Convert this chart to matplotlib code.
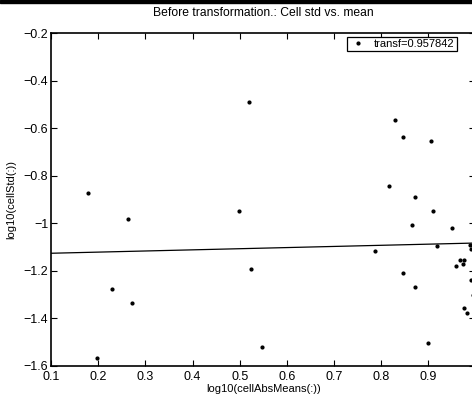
import matplotlib
matplotlib.use('Agg')
import matplotlib.pyplot as plt
from matplotlib.patches import Rectangle
from matplotlib.ticker import FuncFormatter

plt.rcParams['font.family'] = ['Liberation Sans', 'DejaVu Sans']

# log10 of cell means (x) and cell std (y)
cell_mean = [0.178, 0.264, 0.520, 0.499, 0.523, 0.230, 0.272, 0.547, 0.198,
             0.830, 0.846, 0.906, 0.816, 0.872, 0.909, 0.865, 0.951, 0.918,
             0.988, 0.991, 0.787, 0.968, 0.976, 0.973, 0.959, 0.846, 0.991,
             0.872, 0.975, 0.981, 0.900, 0.995]
cell_std = [-0.873, -0.982, -0.489, -0.949, -1.192, -1.277, -1.335, -1.520, -1.565,
            -0.566, -0.636, -0.655, -0.844, -0.889, -0.948, -1.008, -1.021, -1.094,
            -1.091, -1.109, -1.116, -1.155, -1.155, -1.170, -1.179, -1.210, -1.238,
            -1.268, -1.355, -1.378, -1.503, -1.301]

# fitted line
fit_x = [0.1, 1.0]
fit_y = [-1.126, -1.083]

xticks = [0.1, 0.2, 0.3, 0.4, 0.5, 0.6, 0.7, 0.8, 0.9, 1.0]
yticks = [-1.6, -1.4, -1.2, -1.0, -0.8, -0.6, -0.4, -0.2]


def fmt(v, pos):
    s = '%g' % round(v, 3)
    return s.replace('-', '\u2212')


def fmt_x(v, pos):
    # last label falls outside the picture
    if v > 0.95:
        return ''
    return fmt(v, pos)


fig = plt.figure(figsize=(4.72, 3.94), dpi=100)
ax = fig.add_axes([51/472, 28/394, 424.5/472, 333/394])

ax.plot(cell_mean, cell_std, '.', color='black', markersize=4, label='transf=0.957842')
ax.plot(fit_x, fit_y, '-', color='black', linewidth=0.9)

ax.set_xlim(0.1, 1.0)
ax.set_ylim(-1.6, -0.2)
ax.set_xticks(xticks)
ax.set_yticks(yticks)
ax.xaxis.set_major_formatter(FuncFormatter(fmt_x))
ax.yaxis.set_major_formatter(FuncFormatter(fmt))
ax.tick_params(direction='in', top=True, right=True, length=4, width=0.8,
               labelsize=9, pad=2)
ax.tick_params(axis='x', pad=3.5)
for s in ax.spines.values():
    s.set_linewidth(1.2)

ax.set_title('Before transformation.: Cell std vs. mean', fontsize=8.75, pad=12)
ax.set_xlabel('log10(cellAbsMeans(:))', fontsize=8, labelpad=0.5)
ax.set_ylabel('log10(cellStd(:))', fontsize=8, labelpad=5)

leg = ax.legend(loc='upper right', bbox_to_anchor=(0.956, 0.988), borderaxespad=0,
                fontsize=8, fancybox=False, edgecolor='black', framealpha=1,
                handlelength=1.6, handletextpad=0.6, borderpad=0.2)
leg.get_frame().set_linewidth(0.9)

# black strip along the top edge
fig.patches.append(Rectangle((0, 1 - 3/394), 1, 3/394, transform=fig.transFigure,
                             color='black'))

fig.savefig('out.png', dpi=100)
